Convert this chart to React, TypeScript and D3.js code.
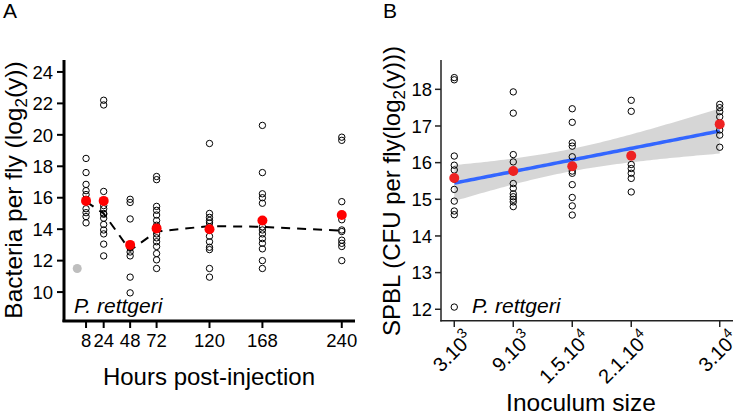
import React from "react";
import * as d3 from "d3";

// ---------- Panel A data ----------
const hours = [8, 24, 48, 72, 120, 168, 240];
const h8 = [18.5, 17.6, 16.85, 16.45, 16.2, 15.9, 15.3, 15.05, 14.8, 14.4];
const h24 = [22.2, 21.9, 16.4, 15.5, 15.3, 15.0, 14.95, 14.7, 14.3, 13.95, 13.7, 13.05, 12.3];
const h48 = [15.9, 15.7, 14.65, 13.0, 12.8, 12.55, 12.3, 10.95, 9.95];
const h72 = [17.35, 17.15, 15.45, 15.2, 14.9, 14.55, 14.25, 14.0, 13.7, 13.45, 13.2, 12.9, 12.45, 12.05, 11.5];
const h120 = [19.45, 15.0, 14.75, 14.55, 14.4, 14.15, 13.95, 13.55, 13.2, 12.85, 12.7, 11.5, 10.95];
const h168 = [20.6, 17.6, 16.25, 16.0, 15.65, 14.5, 14.15, 13.95, 13.7, 13.4, 13.1, 12.75, 12.0, 11.5];
const h240 = [19.85, 19.65, 15.75, 14.6, 13.95, 13.85, 13.3, 13.1, 12.9, 12.0];
const meansA = [15.8, 15.8, 13.0, 14.05, 14.0, 14.55, 14.9];
const trendA = [15.75, 15.0, 12.65, 13.85, 14.2, 14.15, 13.9];
const controlHour = [0];
const controlValue = [11.5];
const yTicksA = [10, 12, 14, 16, 18, 20, 22, 24];

// ---------- Panel B data ----------
const inoculum = [3000, 9000, 15000, 21000, 30000];
const labelMain = ["3.10", "9.10", "1.5.10", "2.1.10", "3.10"];
const labelExp = ["3", "3", "4", "4", "4"];
const i3k = [18.32, 18.26, 16.18, 15.93, 15.8, 15.55, 15.27, 14.95, 14.68, 14.58, 12.06];
const i9k = [17.93, 17.35, 16.22, 16.02, 15.75, 15.43, 15.3, 15.15, 15.07, 15.0, 14.93, 14.8];
const i15k = [17.47, 17.1, 16.54, 16.45, 16.16, 15.9, 15.77, 15.71, 15.4, 15.05, 14.82, 14.57];
const i21k = [17.7, 17.4, 16.2, 15.95, 15.84, 15.71, 15.57, 15.2];
const i30k = [17.59, 17.5, 17.39, 17.25, 17.05, 16.89, 16.75, 16.42];
const meansB = [15.58, 15.77, 15.9, 16.19, 17.05];
const yTicksB = [12, 13, 14, 15, 16, 17, 18];

const FONT = "Arial, 'Liberation Sans', Helvetica, sans-serif";

export default function App() {
  const W = 733, H = 412;

  // Panel A scales
  const xA = d3.scaleLinear().domain([-12, 252]).range([64, 355]);
  const yA = d3.scaleLinear().domain([8.16, 24.76]).range([321, 60]);
  const groupsA = [h8, h24, h48, h72, h120, h168, h240];
  const ptsA: [number, number][] = [];
  groupsA.forEach((g, i) => g.forEach((v) => ptsA.push([hours[i], v])));
  const trendLine = d3
    .line<number>()
    .x((_, i) => xA(hours[i]))
    .y((d) => yA(d))(trendA) as string;

  // Panel B scales
  const xB = d3.scaleLinear().domain([1650, 31350]).range([441, 733]);
  const yB = d3.scaleLinear().domain([11.68, 18.8]).range([321, 60]);
  const groupsB = [i3k, i9k, i15k, i21k, i30k];
  const ptsB: [number, number][] = [];
  groupsB.forEach((g, i) => g.forEach((v) => ptsB.push([inoculum[i], v])));

  // linear regression + 95% CI
  const n = ptsB.length;
  const xbar = d3.mean(ptsB, (d) => d[0]) as number;
  const ybar = d3.mean(ptsB, (d) => d[1]) as number;
  const sxx = d3.sum(ptsB, (d) => (d[0] - xbar) ** 2);
  const sxy = d3.sum(ptsB, (d) => (d[0] - xbar) * (d[1] - ybar));
  const slope = sxy / sxx;
  const icpt = ybar - slope * xbar;
  const sse = d3.sum(ptsB, (d) => (d[1] - (icpt + slope * d[0])) ** 2);
  const s = Math.sqrt(sse / (n - 2));
  const tq = 2.01;
  const xs = d3.range(0, 81).map((k) => 3000 + (27000 * k) / 80);
  const fit = xs.map((x) => {
    const yh = icpt + slope * x;
    const se = s * Math.sqrt(1 / n + (x - xbar) ** 2 / sxx);
    return { x, y: yh, lo: yh - tq * se, hi: yh + tq * se };
  });
  const band = d3
    .area<{ x: number; lo: number; hi: number }>()
    .x((d) => xB(d.x))
    .y0((d) => yB(d.lo))
    .y1((d) => yB(d.hi))(fit) as string;
  const fitLine = d3
    .line<{ x: number; y: number }>()
    .x((d) => xB(d.x))
    .y((d) => yB(d.y))(fit) as string;

  return (
    <svg
      width={W}
      height={H}
      style={{ position: "absolute", left: 0, top: 0, background: "#fff" }}
      fontFamily={FONT}
    >
      <rect x={0} y={0} width={W} height={H} fill="#fff" />
      {/* ================= Panel A ================= */}
      <text x={3} y={18} fontSize={21}>A</text>
      {/* axes */}
      <line x1={64} x2={64} y1={60} y2={322} stroke="#000" strokeWidth={3} />
      <line x1={62.5} x2={355} y1={321} y2={321} stroke="#000" strokeWidth={3} />
      {yTicksA.map((t) => (
        <g key={t}>
          <line x1={57} x2={64} y1={yA(t)} y2={yA(t)} stroke="#000" strokeWidth={2} />
          <text x={53} y={yA(t)} dy="0.36em" textAnchor="end" fontSize={18.5}>{t}</text>
        </g>
      ))}
      {hours.map((h) => (
        <g key={h}>
          <line x1={xA(h)} x2={xA(h)} y1={321} y2={328} stroke="#000" strokeWidth={2} />
          <text x={xA(h)} y={347} textAnchor="middle" fontSize={18.5}>{h}</text>
        </g>
      ))}
      <text x={209} y={385} textAnchor="middle" fontSize={24}>Hours post-injection</text>
      <text transform="translate(22,190) rotate(-90)" textAnchor="middle" fontSize={24.5}>
        Bacteria per fly (log<tspan fontSize={17} dy="5">2</tspan><tspan dy="-5">(y))</tspan>
      </text>
      {/* points */}
      {controlHour.map((h, i) => (
        <circle key={"c" + i} cx={xA(h)} cy={yA(controlValue[i])} r={4.5} fill="#bebebe" />
      ))}
      {ptsA.map((d, i) => (
        <circle key={i} cx={xA(d[0])} cy={yA(d[1])} r={3.2} fill="none" stroke="#000" strokeWidth={1} />
      ))}
      <path d={trendLine} fill="none" stroke="#000" strokeWidth={2} strokeDasharray="9,7" />
      {meansA.map((m, i) => (
        <circle key={"m" + i} cx={xA(hours[i])} cy={yA(m)} r={5} fill="#ff0000" />
      ))}
      <text x={74} y={313} fontSize={21} fontStyle="italic">P. rettgeri</text>

      {/* ================= Panel B ================= */}
      <text x={383} y={18} fontSize={21}>B</text>
      <path d={band} fill="#999999" fillOpacity={0.4} />
      <path d={fitLine} fill="none" stroke="#3366FF" strokeWidth={3.5} />
      {ptsB.map((d, i) => (
        <circle key={i} cx={xB(d[0])} cy={yB(d[1])} r={3.2} fill="none" stroke="#000" strokeWidth={1} />
      ))}
      {meansB.map((m, i) => (
        <circle key={"mb" + i} cx={xB(inoculum[i])} cy={yB(m)} r={5} fill="#ee2222" />
      ))}
      <line x1={441} x2={441} y1={60} y2={321.5} stroke="#222" strokeWidth={1.5} />
      <line x1={440.3} x2={733} y1={320.7} y2={320.7} stroke="#222" strokeWidth={1.5} />
      {yTicksB.map((t) => (
        <g key={t}>
          <line x1={435} x2={441} y1={yB(t)} y2={yB(t)} stroke="#222" strokeWidth={1.5} />
          <text x={432} y={yB(t)} dy="0.36em" textAnchor="end" fontSize={18.5}>{t}</text>
        </g>
      ))}
      {inoculum.map((v, i) => (
        <g key={v}>
          <line x1={xB(v)} x2={xB(v)} y1={320.7} y2={327} stroke="#222" strokeWidth={1.5} />
          <text
            transform={`translate(${xB(v) + 20},${340}) rotate(-45)`}
            textAnchor="end"
            fontSize={20}
          >
            {labelMain[i]}
            <tspan fontSize={14} dy="-9">{labelExp[i]}</tspan>
          </text>
        </g>
      ))}
      <text x={581} y={411} textAnchor="middle" fontSize={24.5}>Inoculum size</text>
      <text transform="translate(400,191) rotate(-90)" textAnchor="middle" fontSize={24}>
        SPBL (CFU per fly(log<tspan fontSize={17} dy="5">2</tspan><tspan dy="-5">(y)))</tspan>
      </text>
      <text x={472} y={313} fontSize={21} fontStyle="italic">P. rettgeri</text>
    </svg>
  );
}
